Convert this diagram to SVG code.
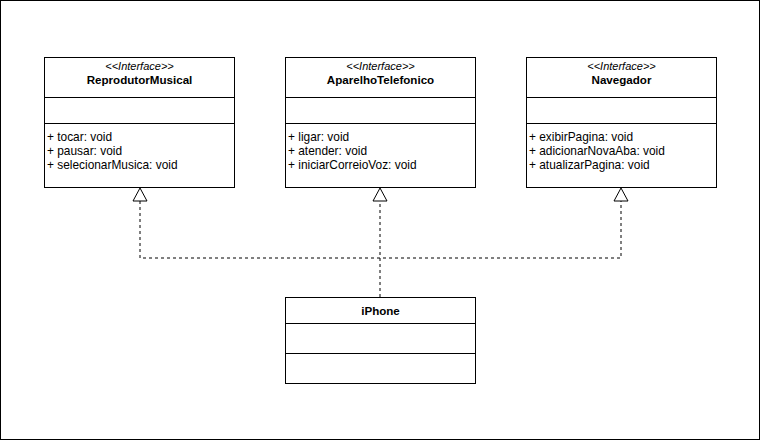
<svg xmlns="http://www.w3.org/2000/svg" width="761" height="441" viewBox="0 0 761 441">
<style>
.box{fill:#fff;stroke:#000;stroke-width:1}
.div{stroke:#000;stroke-width:1}
text{font-family:"Liberation Sans",Arial,sans-serif;font-size:11.9px;fill:#000}
.st{font-style:italic;font-size:11px;text-anchor:middle}
.ti{font-weight:bold;font-size:11.6px;text-anchor:middle}
.dash{fill:none;stroke:#000;stroke-width:1;stroke-dasharray:3 3}
.tri{fill:#fff;stroke:#000;stroke-width:1}
</style>
<rect x="0.5" y="0.5" width="759" height="439" fill="#fff" stroke="#000"/>
<g id="connectors">
<path class="dash" d="M380,297 V201"/>
<path class="dash" d="M140,201 V258 H621 V201"/>
<polygon class="tri" points="140,188 133,201 147,201"/>
<polygon class="tri" points="380,188 373,201 387,201"/>
<polygon class="tri" points="621,188 614,201 628,201"/>
</g>
<g id="ReprodutorMusical">
<rect class="box" x="44.5" y="57.5" width="190" height="130"/>
<line class="div" x1="44.5" y1="97.5" x2="234.5" y2="97.5"/>
<line class="div" x1="44.5" y1="123.5" x2="234.5" y2="123.5"/>
<text class="st" x="139.5" y="70">&lt;&lt;Interface&gt;&gt;</text>
<text class="ti" x="139.5" y="84">ReprodutorMusical</text>
<text x="47" y="141">+ tocar: void</text>
<text x="47" y="155">+ pausar: void</text>
<text x="47" y="169">+ selecionarMusica: void</text>
</g>
<g id="AparelhoTelefonico">
<rect class="box" x="285.5" y="57.5" width="190" height="130"/>
<line class="div" x1="285.5" y1="97.5" x2="475.5" y2="97.5"/>
<line class="div" x1="285.5" y1="123.5" x2="475.5" y2="123.5"/>
<text class="st" x="380.5" y="70">&lt;&lt;Interface&gt;&gt;</text>
<text class="ti" x="380.5" y="84">AparelhoTelefonico</text>
<text x="288" y="141">+ ligar: void</text>
<text x="288" y="155">+ atender: void</text>
<text x="288" y="169">+ iniciarCorreioVoz: void</text>
</g>
<g id="Navegador">
<rect class="box" x="526.5" y="57.5" width="190" height="130"/>
<line class="div" x1="526.5" y1="97.5" x2="716.5" y2="97.5"/>
<line class="div" x1="526.5" y1="123.5" x2="716.5" y2="123.5"/>
<text class="st" x="621.5" y="70">&lt;&lt;Interface&gt;&gt;</text>
<text class="ti" x="621.5" y="84">Navegador</text>
<text x="529" y="141">+ exibirPagina: void</text>
<text x="529" y="155">+ adicionarNovaAba: void</text>
<text x="529" y="169">+ atualizarPagina: void</text>
</g>
<g id="iPhone">
<rect class="box" x="285.5" y="297.5" width="190" height="86"/>
<line class="div" x1="285.5" y1="323.5" x2="475.5" y2="323.5"/>
<line class="div" x1="285.5" y1="353.5" x2="475.5" y2="353.5"/>
<text class="ti" x="380.5" y="315">iPhone</text>
</g>
</svg>
